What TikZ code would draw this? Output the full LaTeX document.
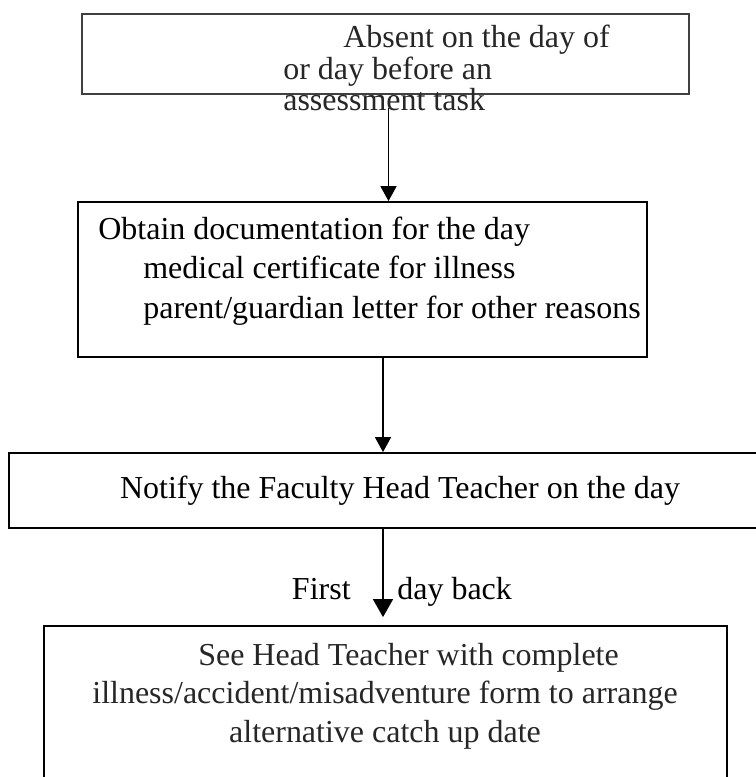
\documentclass[tikz,border=0pt]{standalone}
\usepackage{fontspec}
\setmainfont{Liberation Serif}
\usetikzlibrary{arrows.meta,positioning,calc}

\begin{document}
\begin{tikzpicture}[
    font=\fontsize{18.2pt}{22pt}\selectfont,
    stepbox/.style={draw=black, line width=1pt, minimum width=#1, inner sep=0pt},
    steptext/.style={inner sep=0pt, align=left},
    link/.style={-{Triangle[width=3.2mm,length=3mm]}, line width=0.9pt, draw=black},
    biglink/.style={-{Triangle[width=4mm,length=3.6mm]}, line width=0.9pt, draw=black}
]
    \useasboundingbox (0,0) rectangle (15.1,-15.54);

    % Absence
    \node[stepbox=12.14cm, draw=black!75, minimum height=1.6cm] (absent) at (7.71,-1.08) {};
    \node[steptext, anchor=base west, text=black!85, font=\fontsize{18.2pt}{18.2pt}\selectfont] (t_absent) at (5.66,-2.22)
        {\hspace*{1.2cm}Absent on the day of\\or day before an\\assessment task};

    % Documentation
    \node[stepbox=11.38cm, minimum height=3.1cm] (docs) at (7.25,-5.59) {};
    \node[steptext, anchor=base west, font=\fontsize{18.2pt}{22.2pt}\selectfont] (t_docs) at (1.96,-6.36)
        {Obtain documentation for the day\\\hspace*{0.9cm}medical certificate for illness\\\hspace*{0.9cm}parent/guardian letter for other reasons};

    % Head Teacher
    \node[stepbox=15.64cm, minimum height=1.5cm] (notify) at (8.0,-9.81) {Notify the Faculty Head Teacher on the day};

    % Catch up
    \node[stepbox=13.66cm, minimum height=3.48cm] (see) at (7.71,-14.26) {};
    \node[steptext, align=center, anchor=base, text=black!85, font=\fontsize{18.2pt}{21.9pt}\selectfont] (t_see) at (7.70,-14.84)
        {\hspace*{0.94cm}See Head Teacher with complete\\illness/accident/misadventure form to arrange\\alternative catch up date};

    % Fleches
    \coordinate (a1) at (7.77,-2.16);
    \coordinate (a2) at (7.66,0);
    \draw[link] (a1) -- (a1 |- docs.north);
    \draw[link] (docs.south -| a2) -- (notify.north -| a2);
    \draw[biglink, shorten >=0.16cm] (notify.south -| a2) -- (see.north -| a2);

    \node[steptext, anchor=base east] (first) at (7.02,-11.98) {First};
    \node[steptext, anchor=base west] (dayback) at (7.94,-11.98) {day back};

\end{tikzpicture}
\end{document}
